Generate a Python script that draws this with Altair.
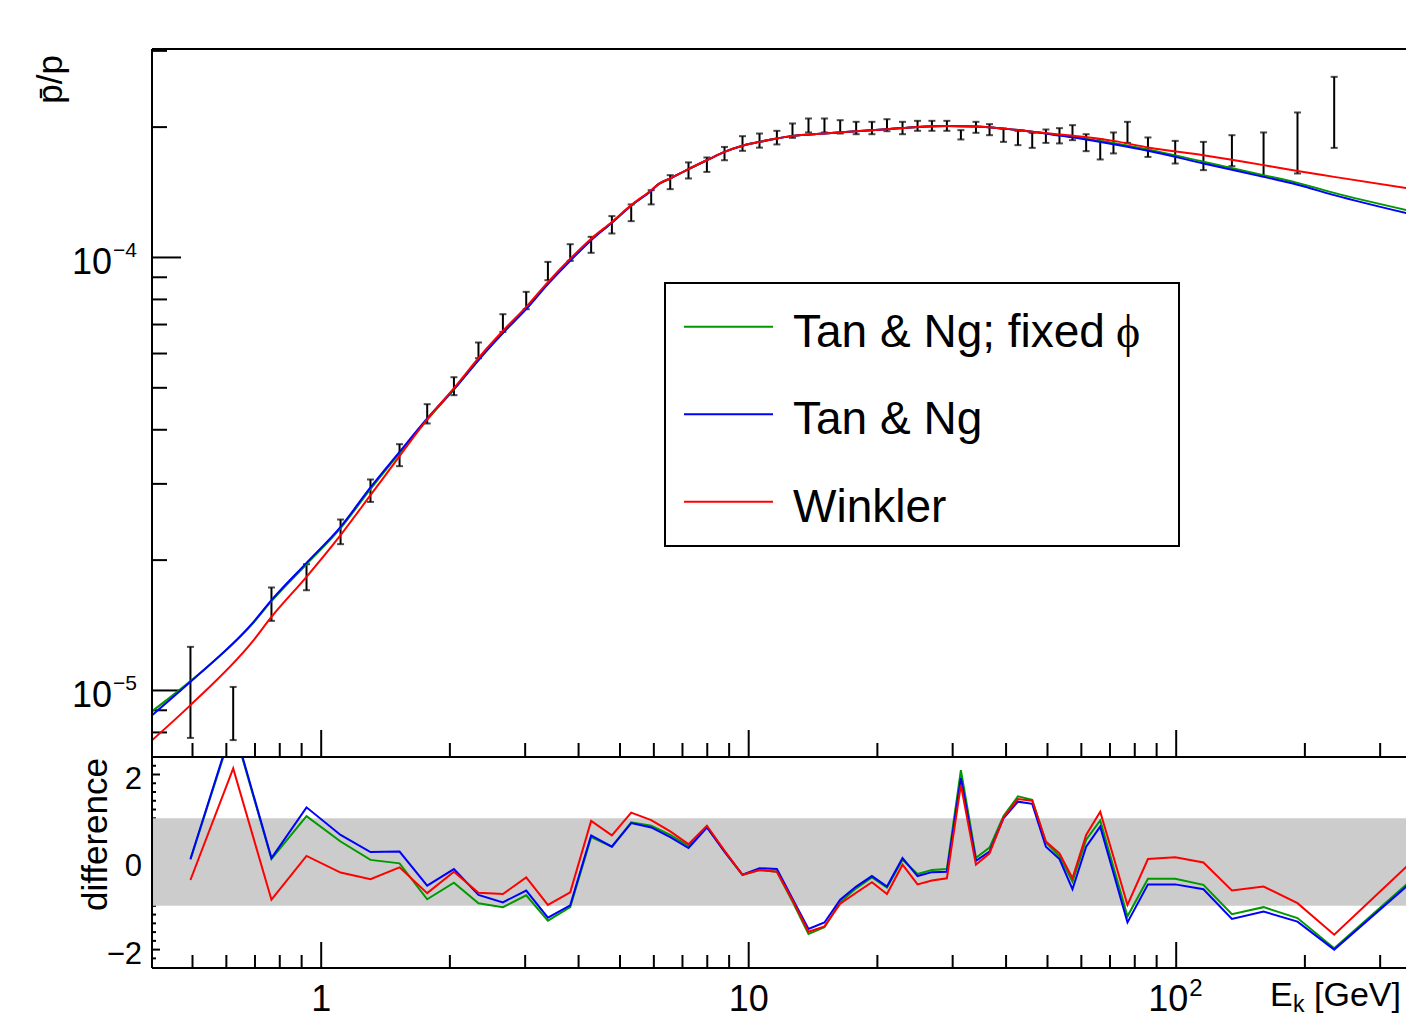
import altair as alt
import pandas as pd

# ---------------- data ----------------
E_data = [0.4945, 0.6225, 0.765, 0.924, 1.110, 1.304, 1.525, 1.770, 2.044, 2.333,
          2.661, 3.017, 3.391, 3.824, 4.280, 4.786, 5.311, 5.915, 6.553, 7.231,
          7.984, 8.779, 9.672, 10.60, 11.64, 12.66, 13.80, 15.04, 16.37, 17.84,
          19.42, 21.06, 22.90, 24.83, 26.83, 29.08, 31.36, 34.01, 36.59, 39.45,
          42.64, 46.05, 49.57, 53.33, 57.20, 61.57, 66.42, 71.33, 76.92, 85.89,
          99.47, 115.8, 135.0, 160.1, 192.2, 234.2, 354.0]
ratio_lo = [7.77e-6, 7.68e-6, 1.448e-5, 1.704e-5, 2.177e-5, 2.725e-5, 3.296e-5, 4.136e-5, 4.808e-5, 5.853e-5,
            6.731e-5, 7.595e-5, 8.862e-5, 9.82e-5, 1.025e-4, 1.136e-4, 1.213e-4, 1.326e-4, 1.438e-4, 1.522e-4,
            1.576e-4, 1.677e-4, 1.763e-4, 1.793e-4, 1.824e-4, 1.889e-4, 1.944e-4, 1.944e-4, 1.933e-4, 1.926e-4,
            1.926e-4, 1.957e-4, 1.926e-4, 1.961e-4, 1.961e-4, 1.961e-4, 1.873e-4, 1.940e-4, 1.916e-4, 1.849e-4,
            1.817e-4, 1.791e-4, 1.839e-4, 1.834e-4, 1.866e-4, 1.760e-4, 1.684e-4, 1.739e-4, 1.839e-4, 1.707e-4,
            1.648e-4, 1.591e-4, 1.625e-4, 1.541e-4, 1.563e-4, 1.791e-4, 1.040e-4]
ratio_hi = [1.261e-5, 1.019e-5, 1.729e-5, 1.957e-5, 2.482e-5, 3.071e-5, 3.705e-5, 4.583e-5, 5.29e-5, 6.363e-5,
            7.396e-5, 8.329e-5, 9.768e-5, 1.073e-4, 1.116e-4, 1.246e-4, 1.326e-4, 1.430e-4, 1.549e-4, 1.658e-4,
            1.702e-4, 1.800e-4, 1.906e-4, 1.933e-4, 1.961e-4, 2.039e-4, 2.094e-4, 2.094e-4, 2.075e-4, 2.057e-4,
            2.057e-4, 2.086e-4, 2.057e-4, 2.068e-4, 2.068e-4, 2.068e-4, 1.968e-4, 2.057e-4, 2.032e-4, 1.986e-4,
            1.961e-4, 1.940e-4, 1.975e-4, 1.989e-4, 2.021e-4, 1.926e-4, 1.873e-4, 1.944e-4, 2.057e-4, 1.893e-4,
            1.859e-4, 1.849e-4, 1.916e-4, 1.944e-4, 2.162e-4, 2.613e-4, 1.817e-4]

curve_E = [0.4024, 0.4945, 0.6897, 0.765, 0.924, 1.110, 1.304, 1.525, 1.770, 2.044,
           2.419, 2.670, 3.017, 3.391, 3.824, 4.280, 4.786, 5.311, 5.915, 6.152,
           6.553, 7.231, 7.984, 8.779, 9.672, 10.60, 11.64, 12.66, 15.04, 17.84,
           21.06, 24.83, 29.08, 34.01, 39.45, 46.05, 53.33, 59.63, 71.33, 85.89,
           115.8, 160.1, 192.2, 234.2, 362.0]
curve_tan_fixed = [8.96e-6, 1.051e-5, 1.423e-5, 1.608e-5, 1.957e-5, 2.371e-5, 2.917e-5, 3.532e-5, 4.220e-5, 4.951e-5,
                   6.042e-5, 6.720e-5, 7.615e-5, 8.71e-5, 9.86e-5, 1.099e-4, 1.205e-4, 1.318e-4, 1.428e-4, 1.477e-4,
                   1.522e-4, 1.600e-4, 1.677e-4, 1.753e-4, 1.812e-4, 1.849e-4, 1.883e-4, 1.909e-4, 1.933e-4, 1.957e-4,
                   1.978e-4, 2.002e-4, 2.013e-4, 2.007e-4, 1.984e-4, 1.952e-4, 1.916e-4, 1.888e-4, 1.839e-4, 1.776e-4,
                   1.664e-4, 1.549e-4, 1.487e-4, 1.410e-4, 1.274e-4]
curve_tan = [8.77e-6, 1.047e-5, 1.428e-5, 1.616e-5, 1.971e-5, 2.387e-5, 2.943e-5, 3.556e-5, 4.247e-5, 4.964e-5,
             6.042e-5, 6.720e-5, 7.595e-5, 8.68e-5, 9.83e-5, 1.096e-4, 1.203e-4, 1.317e-4, 1.426e-4, 1.477e-4,
             1.522e-4, 1.600e-4, 1.677e-4, 1.753e-4, 1.812e-4, 1.849e-4, 1.883e-4, 1.909e-4, 1.933e-4, 1.957e-4,
             1.978e-4, 2.002e-4, 2.013e-4, 2.007e-4, 1.984e-4, 1.952e-4, 1.913e-4, 1.883e-4, 1.826e-4, 1.763e-4,
             1.649e-4, 1.535e-4, 1.472e-4, 1.393e-4, 1.252e-4]
curve_winkler = [7.68e-6, 9.25e-6, 1.295e-5, 1.479e-5, 1.830e-5, 2.284e-5, 2.825e-5, 3.476e-5, 4.225e-5, 4.991e-5,
                 6.106e-5, 6.792e-5, 7.689e-5, 8.77e-5, 9.93e-5, 1.105e-4, 1.208e-4, 1.321e-4, 1.430e-4, 1.477e-4,
                 1.522e-4, 1.600e-4, 1.677e-4, 1.753e-4, 1.812e-4, 1.849e-4, 1.883e-4, 1.909e-4, 1.933e-4, 1.957e-4,
                 1.978e-4, 2.002e-4, 2.013e-4, 2.007e-4, 1.984e-4, 1.952e-4, 1.923e-4, 1.903e-4, 1.859e-4, 1.795e-4,
                 1.722e-4, 1.634e-4, 1.583e-4, 1.535e-4, 1.436e-4]

diff_tan_fixed = [0.06, 3.10, 0.07, 1.05, 0.47, 0.05, -0.03, -0.85, -0.47, -0.94,
                  -1.03, -0.76, -1.34, -1.03, 0.57, 0.35, 0.91, 0.83, 0.62, 0.37,
                  0.81, 0.24, -0.29, -0.18, -0.22, -0.90, -1.64, -1.49, -0.92, -0.60,
                  -0.35, -0.58, 0.05, -0.27, -0.18, -0.16, 2.10, 0.10, 0.33, 1.05,
                  1.50, 1.42, 0.45, 0.13, -0.45, 0.51, 0.95, -0.12, -1.24, -0.38,
                  -0.38, -0.52, -1.19, -1.03, -1.28, -1.97, -0.42]
diff_tan = [0.07, 3.15, 0.09, 1.25, 0.62, 0.23, 0.24, -0.54, -0.16, -0.75,
            -0.92, -0.65, -1.27, -0.99, 0.61, 0.35, 0.89, 0.79, 0.57, 0.32,
            0.79, 0.24, -0.29, -0.14, -0.16, -0.84, -1.53, -1.38, -0.86, -0.56,
            -0.32, -0.56, 0.09, -0.32, -0.23, -0.22, 1.92, 0.03, 0.24, 1.00,
            1.38, 1.33, 0.35, 0.07, -0.62, 0.35, 0.81, -0.25, -1.38, -0.51,
            -0.51, -0.62, -1.30, -1.13, -1.36, -2.00, -0.47]
diff_winkler = [-0.41, 2.14, -0.86, 0.14, -0.24, -0.39, -0.12, -0.71, -0.22, -0.70,
                -0.73, -0.35, -0.98, -0.69, 0.94, 0.61, 1.13, 0.96, 0.70, 0.41,
                0.83, 0.26, -0.29, -0.18, -0.22, -0.87, -1.59, -1.47, -0.95, -0.70,
                -0.46, -0.73, -0.06, -0.51, -0.42, -0.37, 1.76, -0.06, 0.20, 1.02,
                1.44, 1.40, 0.47, 0.20, -0.37, 0.62, 1.15, 0.12, -0.98, 0.07,
                0.11, -0.01, -0.65, -0.56, -0.94, -1.66, -0.01]

model_labels = ["Tan & Ng; fixed", "Tan & Ng", "Winkler"]
model_colors = ["#009900", "#0000ff", "#ff0000"]
phi_symbol = "\u03d5"

x_major_ticks = [1, 10, 100]
x_minor_ticks = [0.5, 0.6, 0.7, 0.8, 0.9, 2, 3, 4, 5, 6, 7, 8, 9,
                 20, 30, 40, 50, 60, 70, 80, 90, 200, 300]
x_label_vals = [1, 10]
x_label_text = ["1", "10"]
x_exp_val = [100]
x_exp_base = ["10"]
x_exp_sup = ["2"]
x_title_parts = ["E", "k", "[GeV]"]

y_up_major = [1e-5, 1e-4]
y_up_minor = [8e-6, 9e-6, 2e-5, 3e-5, 4e-5, 5e-5, 6e-5, 7e-5, 8e-5, 9e-5, 2e-4, 3e-4]
y_up_base = ["10", "10"]
y_up_sup = ["\u22125", "\u22124"]

y_lo_major = [-2, 0, 2]
y_lo_minor = [-2.2, -1.8, -1.6, -1.4, -1.2, -1.0, 1.0, 1.2, 1.4, 1.6, 1.8, 2.2]
y_lo_text = ["\u22122", "0", "2"]

band_lo, band_hi = -1, 1

# ---------------- layout constants ----------------
W = 1254
H_UP = 708
H_LO = 211
H = H_UP + H_LO
FONT = "Liberation Sans"

x_scale = alt.Scale(type="log", domain=[0.402, 344.8], range=[0, W], nice=False)
y_up = alt.Scale(type="log", domain=[7.02e-6, 3.03e-4], range=[H_UP, 0], nice=False)
y_lo = alt.Scale(domain=[-2.42, 2.40], range=[H, H_UP], nice=False, zero=False)

dummy = pd.DataFrame({"a": [0]})


def X(f):
    return alt.X(f"{f}:Q", scale=x_scale, axis=None)


def YU(f):
    return alt.Y(f"{f}:Q", scale=y_up, axis=None)


def YL(f):
    return alt.Y(f"{f}:Q", scale=y_lo, axis=None)


def hrule(y, x0=0, x1=W, col="black"):
    return alt.Chart(dummy).mark_rule(color=col, strokeWidth=2).encode(
        x=alt.value(x0), x2=alt.value(x1), y=alt.value(y))


def vrule(x, y0, y1):
    return alt.Chart(dummy).mark_rule(color="black", strokeWidth=2).encode(
        x=alt.value(x), y=alt.value(y0), y2=alt.value(y1))


# ---------------- lower panel (drawn first) ----------------
lo_layers = []
lo_layers.append(alt.Chart(pd.DataFrame({"v": y_lo_major})).mark_rule(color="black", strokeWidth=2).encode(
    y=YL("v"), x=alt.value(0), x2=alt.value(8)))
lo_layers.append(alt.Chart(pd.DataFrame({"v": y_lo_minor})).mark_rule(color="black", strokeWidth=2).encode(
    y=YL("v"), x=alt.value(0), x2=alt.value(4)))
lo_layers.append(alt.Chart(pd.DataFrame({"lo": [band_lo], "hi": [band_hi]})).mark_rect(color="#cccccc").encode(
    x=alt.value(0), x2=alt.value(W), y=YL("lo"), y2="hi:Q"))
lo_layers.append(alt.Chart(pd.DataFrame({"t": x_major_ticks})).mark_rule(color="black", strokeWidth=2).encode(
    x=X("t"), y=alt.value(H - 26), y2=alt.value(H)))
lo_layers.append(alt.Chart(pd.DataFrame({"t": x_minor_ticks})).mark_rule(color="black", strokeWidth=2).encode(
    x=X("t"), y=alt.value(H - 13), y2=alt.value(H)))

for vals, col in zip([diff_tan_fixed, diff_tan, diff_winkler], model_colors):
    df = pd.DataFrame({"E": E_data, "d": vals})
    lo_layers.append(alt.Chart(df).mark_line(color=col, strokeWidth=2, clip=True).encode(
        x=X("E"), y=YL("d")))

# y labels and title
lo_layers.append(alt.Chart(pd.DataFrame({"v": y_lo_major, "t": y_lo_text})).mark_text(
    font=FONT, fontSize=31, align="right", baseline="alphabetic", dy=14, color="black").encode(
    y=YL("v"), x=alt.value(-10), text="t:N"))
lo_layers.append(alt.Chart(dummy).mark_text(font=FONT, fontSize=35, angle=270, align="right",
                                            baseline="alphabetic", color="black").encode(
    x=alt.value(-45), y=alt.value(H_UP + 1), text=alt.value("difference")))

# x labels
lo_layers.append(alt.Chart(pd.DataFrame({"t": x_label_vals, "s": x_label_text})).mark_text(
    font=FONT, fontSize=36, align="center", baseline="alphabetic", color="black").encode(
    x=X("t"), y=alt.value(H + 43), text="s:N"))
lo_layers.append(alt.Chart(pd.DataFrame({"t": x_exp_val, "s": x_exp_base})).mark_text(
    font=FONT, fontSize=36, align="center", baseline="alphabetic", dx=-8, color="black").encode(
    x=X("t"), y=alt.value(H + 43), text="s:N"))
lo_layers.append(alt.Chart(pd.DataFrame({"t": x_exp_val, "s": x_exp_sup})).mark_text(
    font=FONT, fontSize=24, align="left", baseline="alphabetic", dx=13, color="black").encode(
    x=X("t"), y=alt.value(H + 28), text="s:N"))

# x title (E_k [GeV]) at the lower right
lo_layers.append(alt.Chart(dummy).mark_text(font=FONT, fontSize=34, align="left", baseline="alphabetic",
                                            color="black").encode(
    x=alt.value(1118), y=alt.value(H + 38), text=alt.value(x_title_parts[0])))
lo_layers.append(alt.Chart(dummy).mark_text(font=FONT, fontSize=23, align="left", baseline="alphabetic",
                                            color="black").encode(
    x=alt.value(1141), y=alt.value(H + 44), text=alt.value(x_title_parts[1])))
lo_layers.append(alt.Chart(dummy).mark_text(font=FONT, fontSize=34, align="left", baseline="alphabetic",
                                            color="black").encode(
    x=alt.value(1162), y=alt.value(H + 38), text=alt.value(x_title_parts[2])))

# frame
lo_layers.append(vrule(0, H_UP, H))
lo_layers.append(hrule(H))

lower = alt.layer(*lo_layers)

# ---------------- upper panel ----------------
pts = pd.DataFrame({"E": E_data, "lo": ratio_lo, "hi": ratio_hi})
up_layers = []

# white background of the upper plot area (hides lower curves leaving their panel)
up_layers.append(alt.Chart(dummy).mark_rect(fill="white").encode(
    x=alt.value(0), x2=alt.value(W), y=alt.value(0), y2=alt.value(H_UP)))

# axis ticks (inside)
up_layers.append(alt.Chart(pd.DataFrame({"t": x_major_ticks})).mark_rule(color="black", strokeWidth=2).encode(
    x=X("t"), y=alt.value(H_UP - 27), y2=alt.value(H_UP)))
up_layers.append(alt.Chart(pd.DataFrame({"t": x_minor_ticks})).mark_rule(color="black", strokeWidth=2).encode(
    x=X("t"), y=alt.value(H_UP - 14), y2=alt.value(H_UP)))
up_layers.append(alt.Chart(pd.DataFrame({"v": y_up_major})).mark_rule(color="black", strokeWidth=2).encode(
    y=YU("v"), x=alt.value(0), x2=alt.value(29)))
up_layers.append(alt.Chart(pd.DataFrame({"v": y_up_minor})).mark_rule(color="black", strokeWidth=2).encode(
    y=YU("v"), x=alt.value(0), x2=alt.value(15)))

# error bars
up_layers.append(alt.Chart(pts).mark_rule(color="black", strokeWidth=2, clip=True).encode(
    x=X("E"), y=YU("lo"), y2="hi:Q"))
up_layers.append(alt.Chart(pts).mark_tick(color="black", orient="horizontal", size=7, thickness=2,
                                          clip=True).encode(x=X("E"), y=YU("lo")))
up_layers.append(alt.Chart(pts).mark_tick(color="black", orient="horizontal", size=7, thickness=2,
                                          clip=True).encode(x=X("E"), y=YU("hi")))

# model curves
for vals, col in zip([curve_tan_fixed, curve_tan, curve_winkler], model_colors):
    df = pd.DataFrame({"E": curve_E, "v": vals})
    up_layers.append(alt.Chart(df).mark_line(color=col, strokeWidth=2, clip=True, interpolate="monotone").encode(
        x=X("E"), y=YU("v")))

# y tick labels 10^n
ylab = pd.DataFrame({"v": y_up_major, "base": y_up_base, "sup": y_up_sup})
up_layers.append(alt.Chart(ylab).mark_text(font=FONT, fontSize=36, align="right", baseline="alphabetic", dy=17,
                                           color="black").encode(
    y=YU("v"), x=alt.value(-40), text="base:N"))
up_layers.append(alt.Chart(ylab).mark_text(font=FONT, fontSize=21, align="left", baseline="alphabetic", dy=0,
                                           color="black").encode(
    y=YU("v"), x=alt.value(-39), text="sup:N"))

# y title
up_layers.append(alt.Chart(dummy).mark_text(font=FONT, fontSize=35, angle=270, align="right",
                                            baseline="alphabetic", color="black").encode(
    x=alt.value(-90), y=alt.value(6), text=alt.value("p\u0304/p")))

# legend
up_layers.append(alt.Chart(dummy).mark_rect(fill="white", stroke="black", strokeWidth=2).encode(
    x=alt.value(513), x2=alt.value(1027), y=alt.value(234), y2=alt.value(497)))
for i, (lab, col) in enumerate(zip(model_labels, model_colors)):
    ly = 277.7 + i * 87.5
    up_layers.append(hrule(ly, 532, 621, col))
    up_layers.append(alt.Chart(dummy).mark_text(font=FONT, fontSize=46, align="left", baseline="alphabetic",
                                                color="black").encode(
        x=alt.value(641), y=alt.value(ly + 20), text=alt.value(lab)))
up_layers.append(alt.Chart(dummy).mark_text(font="Liberation Serif", fontSize=46, align="left",
                                            baseline="alphabetic", color="black").encode(
    x=alt.value(964), y=alt.value(277.7 + 20), text=alt.value(phi_symbol)))

# frame
up_layers.append(hrule(0))
up_layers.append(vrule(0, 0, H_UP))
up_layers.append(hrule(H_UP))

upper = alt.layer(*up_layers)

chart = alt.layer(lower, upper).resolve_scale(y="independent").properties(
    width=W, height=H,
    autosize=alt.AutoSizeParams(type="none"),
    padding={"left": 144, "top": 41, "right": 0, "bottom": 51},
    background="white",
).configure_view(stroke=None)

chart.save("out.html", embed_options={"renderer": "svg", "actions": False})
